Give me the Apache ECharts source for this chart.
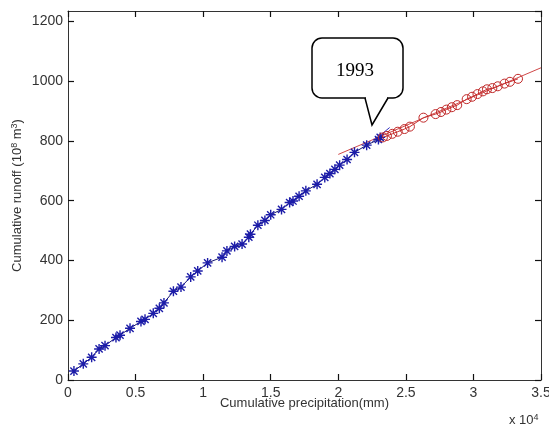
<!DOCTYPE html>
<html>
<head>
<meta charset="utf-8">
<script src="https://cdn.jsdelivr.net/npm/echarts@6/dist/echarts.min.js"></script>
<style>html,body{margin:0;padding:0;background:#fff}#c{width:549px;height:426px}</style>
</head>
<body>
<div id="c"></div>
<script>
// Cumulative precipitation (mm) and cumulative runoff (10^8 m^3), before 1993 (stars)
var beforeX = [440, 1130, 1750, 2300, 2740, 3550, 3850, 4590, 5400, 5700, 6310, 6760, 7100, 7800, 8360, 9080, 9600, 10330, 11400, 11760, 12330, 12880, 13380, 13500, 14050, 14570, 15000, 15800, 16400, 16650, 17100, 17600, 18430, 19000, 19380, 19750, 20100, 20650, 21200, 22100, 22970, 23100];
var beforeY = [30, 54, 76, 104, 115, 142, 150, 173, 196, 203, 223, 240, 258, 297, 311, 345, 365, 392, 411, 432, 447, 455, 478, 488, 518, 534, 553, 571, 594, 599, 615, 633, 655, 678, 691, 705, 719, 738, 762, 786, 805, 812];
// after 1993 (circles)
var afterX = [23300, 23600, 24000, 24400, 24900, 25300, 26300, 27200, 27600, 28000, 28400, 28800, 29500, 29900, 30300, 30700, 31000, 31400, 31800, 32300, 32700, 33300];
var afterY = [812, 817, 824, 831, 840, 848, 878, 890, 897, 905, 913, 920, 940, 948, 957, 966, 973, 977, 983, 992, 998, 1008];
// fitted lines
var fitBeforeX = [22500, 23800];
var fitBeforeY = [796, 845];
var fitAfterX = [20000, 35000];
var fitAfterY = [755, 1045];
var xTicks = ['0', '0.5', '1', '1.5', '2', '2.5', '3', '3.5'];
var annotationText = '1993';

function zip(a, b) { return a.map(function (v, i) { return [v, b[i]]; }); }

var chart = echarts.init(document.getElementById('c'));
var axisCol = '#333333';
var labelCol = '#333';
var star = 'path://M0,-5L0,5M-5,0L5,0M-3.6,-3.6L3.6,3.6M-3.6,3.6L3.6,-3.6';

function xAx(extra) {
  return Object.assign({
    type: 'value', min: 0, max: 35000, interval: 5000, show: true, gridIndex: 0,
    axisLine: { show: true, onZero: false, lineStyle: { color: axisCol, width: 1 } },
    axisTick: { show: true, inside: true, length: 6, lineStyle: { color: '#111', width: 1.2 } },
    splitLine: { show: false }
  }, extra);
}
function yAx(extra) {
  return Object.assign({
    type: 'value', min: 0, max: 1235, interval: 200, show: true, gridIndex: 0,
    axisLine: { show: true, onZero: false, lineStyle: { color: axisCol, width: 1 } },
    axisTick: { show: true, inside: true, length: 6, lineStyle: { color: '#111', width: 1.2 } },
    splitLine: { show: false }
  }, extra);
}

chart.setOption({
  animation: false,
  backgroundColor: '#fff',
  grid: {
    left: 68, right: 8, top: 11, bottom: 46, containLabel: false, outerBoundsMode: 'none'
  },
  xAxis: [
    xAx({
      position: 'bottom',
      name: 'Cumulative precipitation(mm)',
      nameLocation: 'middle', nameGap: 17, nameMoveOverlap: false,
      nameTextStyle: { fontFamily: 'Liberation Sans', fontSize: 13, color: labelCol },
      axisLabel: {
        fontFamily: 'Liberation Sans', fontSize: 14, color: labelCol, margin: 6,
        formatter: function (v) { return xTicks[Math.round(v / 5000)]; }
      }
    }),
    xAx({ position: 'top', axisLabel: { show: false } })
  ],
  yAxis: [
    yAx({
      position: 'left',
      name: 'Cumulative runoff (10{s|8} m{s|3})',
      nameLocation: 'middle', nameGap: 43, nameRotate: 90, nameMoveOverlap: false,
      nameTextStyle: {
        fontFamily: 'Liberation Sans', fontSize: 13, color: labelCol,
        rich: { s: { fontFamily: 'Liberation Sans', fontSize: 9, color: labelCol, verticalAlign: 'top', padding: [0, 0, 6, 0] } }
      },
      axisLabel: {
        fontFamily: 'Liberation Sans', fontSize: 14, color: labelCol, margin: 5,
        showMaxLabel: false,
        formatter: function (v) { return String(v); }
      }
    }),
    yAx({ position: 'right', axisLabel: { show: false } })
  ],
  series: [
    {
      type: 'line', data: zip(fitAfterX, fitAfterY), symbol: 'none',
      xAxisIndex: 1, yAxisIndex: 1,
      lineStyle: { color: '#d04848', width: 1 }, z: 1
    },
    {
      type: 'line', data: zip(fitBeforeX, fitBeforeY), symbol: 'none',
      xAxisIndex: 1, yAxisIndex: 1,
      lineStyle: { color: '#3030c0', width: 1 }, z: 2
    },
    {
      type: 'line', data: zip(beforeX, beforeY), symbol: star, symbolSize: 10,
      xAxisIndex: 0, yAxisIndex: 0,
      lineStyle: { color: '#141470', width: 1 },
      itemStyle: { color: '#1c1ca8', borderColor: '#1c1ca8', borderWidth: 1.4 }, z: 3
    },
    {
      type: 'line', data: zip(afterX, afterY), symbol: 'circle', symbolSize: 9,
      xAxisIndex: 0, yAxisIndex: 0,
      lineStyle: { color: '#c83030', width: 1 },
      itemStyle: { color: 'rgba(255,255,255,0)', borderColor: '#c02828', borderWidth: 1 }, z: 3
    }
  ],
  graphic: [
    {
      type: 'rect', z: 100,
      shape: { x: 312, y: 38, width: 91, height: 60, r: 10 },
      style: { fill: '#fff', stroke: '#000', lineWidth: 1.5 }
    },
    {
      type: 'rect', z: 101,
      shape: { x: 366, y: 96, width: 21, height: 4 },
      style: { fill: '#fff', stroke: null }
    },
    {
      type: 'polyline', z: 102,
      shape: { points: [[365, 98], [372, 125], [388, 98]] },
      style: { fill: null, stroke: '#000', lineWidth: 1.5 }
    },
    {
      type: 'text', z: 103, left: 336, top: 62,
      style: { text: annotationText, font: '19px "Liberation Serif"', fill: '#000' }
    },
    {
      type: 'text', z: 103, left: 509, top: 413,
      style: {
        text: 'x 10{s|4}', font: '13px "Liberation Sans"', fill: labelCol,
        rich: { s: { font: '9px "Liberation Sans"', fill: labelCol, verticalAlign: 'top', padding: [0, 0, 6, 0] } }
      }
    }
  ]
});
</script>
</body>
</html>
